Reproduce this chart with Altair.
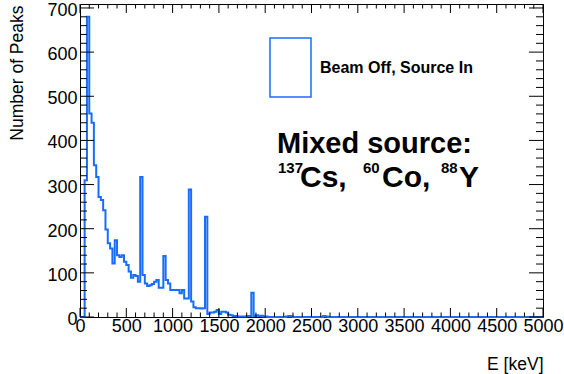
import altair as alt
import pandas as pd

# Spectrum: counts per 25 keV bin from 0 to 5000 keV
BIN_WIDTH = 25
E_MIN, E_MAX = 0, 5000

# 0 - 2000 keV
counts_low = [
    0, 0, 310, 680, 461, 440, 344, 317, 272, 265,
    242, 198, 167, 155, 121, 174, 140, 136, 140, 125,
    118, 103, 89, 95, 93, 80, 317, 95, 76, 70,
    72, 75, 80, 84, 66, 66, 138, 84, 76, 61,
    61, 61, 61, 54, 61, 42, 42, 289, 35, 22,
    20, 20, 19, 20, 227, 7, 10, 10, 12, 16,
    7, 12, 12, 10, 5, 4, 2, 2, 1, 1,
    1, 1, 2, 2, 55, 2, 4, 2, 3, 1,
]
# 2000 - 5000 keV
counts_high = [
    1, 0, 0, 0, 0, 0, 0, 0, 0, 1,
    2, 1, 0, 0, 0, 0, 0, 0, 0, 0,
    0, 0, 0, 0, 0, 2, 1, 0, 0, 0,
    0, 0, 0, 0, 0, 0, 0, 0, 0, 0,
    0, 0, 0, 0, 0, 0, 0, 0, 0, 0,
    0, 0, 0, 0, 0, 0, 0, 0, 0, 0,
    0, 0, 0, 0, 0, 0, 0, 0, 0, 0,
    0, 0, 0, 0, 0, 0, 0, 0, 0, 0,
    0, 0, 0, 0, 0, 0, 0, 0, 0, 0,
    0, 0, 0, 0, 0, 0, 0, 0, 0, 0,
    0, 0, 0, 0, 0, 0, 0, 0, 0, 0,
    0, 0, 0, 0, 0, 0, 0, 0, 0, 0,
]

x_major = [0, 500, 1000, 1500, 2000, 2500, 3000, 3500, 4000, 4500, 5000]
y_major = [0, 100, 200, 300, 400, 500, 600, 700]
x_minor_step = 100
y_minor_step = 20
Y_MAX = 709

legend_label = ["Beam Off, Source In"]

counts = counts_low + counts_high
edges = list(range(E_MIN, E_MAX + BIN_WIDTH, BIN_WIDTH))
hist_df = pd.DataFrame({"E": edges, "count": counts + [counts[-1]]})

x_minor = [v for v in range(E_MIN, E_MAX + 1, x_minor_step) if v not in x_major]
y_minor = [v for v in range(0, Y_MAX, y_minor_step) if v not in y_major]

W, H = 463, 313
FONT = "Liberation Sans"
BLUE = "#1a6cff"

x_scale = alt.Scale(domain=[E_MIN, E_MAX], nice=False, zero=False)
y_scale = alt.Scale(domain=[0, Y_MAX], nice=False)

x_axis = alt.Axis(
    values=x_major, format="d", ticks=False, domain=False, grid=False,
    labelFont=FONT, labelFontSize=18, labelColor="black", labelPadding=0,
    labelFlush=False, labelOverlap=False,
    title="E [keV]", titleFont=FONT, titleFontSize=17.5, titleFontWeight="normal",
    titleColor="black", titleAlign="right", titleAnchor="end", titleX=W, titleY=52,
    titleBaseline="alphabetic",
)
y_axis = alt.Axis(
    values=y_major, format="d", ticks=False, domain=False, grid=False,
    labelFont=FONT, labelFontSize=18, labelColor="black", labelPadding=3,
    labelOverlap=False, labelOffset=2.5,
    title="Number of Peaks", titleFont=FONT, titleFontSize=17.5, titleFontWeight="normal",
    titleColor="black", titleAngle=270, titleAlign="right", titleX=-58, titleY=1,
    titleBaseline="alphabetic",
)


def xenc():
    return alt.X("E:Q", scale=x_scale, axis=x_axis)


def yenc():
    return alt.Y("count:Q", scale=y_scale, axis=y_axis)


hist = alt.Chart(hist_df).mark_line(
    interpolate="step-after", color=BLUE, strokeWidth=2
).encode(x=xenc(), y=yenc())


def x_ticks(values, length):
    df = pd.DataFrame({"E": values})
    bottom = alt.Chart(df).mark_rule(color="black", strokeWidth=1).encode(
        x=xenc(), y=alt.value(H), y2=alt.value(H - length))
    top = alt.Chart(df).mark_rule(color="black", strokeWidth=1).encode(
        x=xenc(), y=alt.value(0), y2=alt.value(length))
    return [bottom, top]


def y_ticks(values, length):
    df = pd.DataFrame({"count": values})
    left = alt.Chart(df).mark_rule(color="black", strokeWidth=1).encode(
        y=yenc(), x=alt.value(0), x2=alt.value(length))
    right = alt.Chart(df).mark_rule(color="black", strokeWidth=1).encode(
        y=yenc(), x=alt.value(W), x2=alt.value(W - length))
    return [left, right]


ticks = (x_ticks(x_major, 9) + x_ticks(x_minor, 4.5)
         + y_ticks(y_major, 14) + y_ticks(y_minor, 7))

# Legend entry: hollow box plus label
leg_df = pd.DataFrame({"label": legend_label})
leg_box = alt.Chart(leg_df).mark_rect(
    filled=False, stroke=BLUE, strokeWidth=1.5
).encode(x=alt.value(190), x2=alt.value(231), y=alt.value(34), y2=alt.value(93))
leg_text = alt.Chart(leg_df).mark_text(
    align="left", baseline="alphabetic", font=FONT, fontSize=16,
    fontWeight="bold", color="black"
).encode(text="label:N", x=alt.value(240), y=alt.value(69))


def note(text, x, y, size):
    return alt.Chart(pd.DataFrame({"t": [text]})).mark_text(
        align="left", baseline="alphabetic", font=FONT, fontSize=size,
        fontWeight="bold", color="black"
    ).encode(text="t:N", x=alt.value(x), y=alt.value(y))


notes = [
    note("Mixed source:", 197, 149, 29),
    note("137", 198, 169, 15),
    note("Cs,", 220, 183, 30),
    note("60", 283, 169, 15),
    note("Co,", 302, 183, 30),
    note("88", 361, 169, 15),
    note("Y", 379, 183, 30),
]

chart = alt.layer(hist, *ticks, leg_box, leg_text, *notes).properties(
    width=W, height=H,
    padding={"left": 80, "top": 4, "right": 21, "bottom": 57},
    autosize="none",
    background="white",
).configure_view(stroke="black", strokeWidth=1)

chart.save("out.html", embed_options={"renderer": "svg", "actions": False})
